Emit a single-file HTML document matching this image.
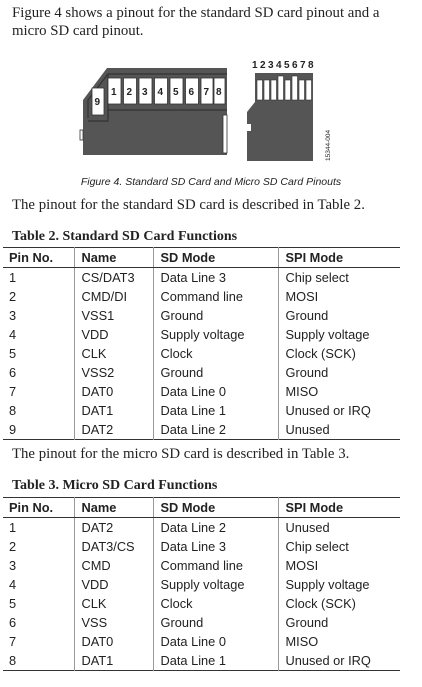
<!DOCTYPE html>
<html><head><meta charset="utf-8"><style>
body{margin:0;width:422px;height:687px;background:#fff;position:relative;overflow:hidden;font-family:"Liberation Serif",serif;color:#222}
.p{position:absolute;left:12px;font-size:14.8px;white-space:nowrap}
.t{position:absolute;left:12px;font-weight:bold;font-size:14px;white-space:nowrap}
table{position:absolute;left:3px;width:397px;border-collapse:collapse;table-layout:fixed;font-family:"Liberation Sans",sans-serif;font-size:12.8px;border-top:1.5px solid #333;border-bottom:1.5px solid #333}
td,th{padding:0 0 0 7px;height:19px;text-align:left;white-space:nowrap;border-left:1px solid #999}
td:first-child,th:first-child{border-left:none;padding-left:6px}
th{height:19px;font-weight:bold;border-bottom:1px solid #333}
</style></head><body>
<div class="p" style="top:5px">Figure 4 shows a pinout for the standard SD card pinout and a</div>
<div class="p" style="top:23px">micro SD card pinout.</div>
<svg style="position:absolute;left:0;top:0" width="422" height="200">
<path d="M83,100 L107,68 L227,68 L227,155 L83,155 Z" fill="#555"/>
<path d="M88,118 L88,100 L108,74 L227,74 M108,74 L108,118 Z" stroke="#333" fill="none" stroke-width="1.2"/>
<path d="M88,121 L108,121 L108,110 L227,110" stroke="#333" fill="none" stroke-width="1.2"/>
<g fill="#fff" stroke="#333" stroke-width="0.8">
<rect x="108" y="78" width="13" height="26"/><rect x="123.5" y="78" width="13" height="26"/><rect x="139" y="78" width="13" height="26"/><rect x="154.5" y="78" width="13" height="26"/><rect x="170" y="78" width="13" height="26"/><rect x="185.5" y="78" width="13" height="26"/><rect x="201" y="78" width="12" height="26"/><rect x="214" y="78" width="11" height="26"/>
<rect x="92" y="88" width="12" height="27"/>
<rect x="223" y="115" width="4" height="38"/>
<rect x="80" y="130" width="3" height="10"/>
</g>
<g font-family="Liberation Sans,sans-serif" font-weight="bold" font-size="10" fill="#222">
<text x="111" y="95">1</text><text x="126.5" y="95">2</text><text x="142" y="95">3</text><text x="157.5" y="95">4</text><text x="173" y="95">5</text><text x="188.5" y="95">6</text><text x="203.5" y="95">7</text><text x="216" y="95">8</text>
<text x="94.5" y="105">9</text>
</g>
<path d="M255,73 L313,73 L313,161 L247,161 L247,112 L255,102 Z" fill="#555"/>
<rect x="247" y="124" width="4" height="7" fill="#fff"/>
<g fill="#fff" stroke="#333" stroke-width="0.6">
<rect x="257" y="80" width="5.5" height="20"/><rect x="264" y="80" width="5.5" height="20"/><rect x="271" y="80" width="5.5" height="20"/><rect x="278" y="76" width="5.5" height="24"/><rect x="285" y="80" width="5.5" height="20"/><rect x="292" y="76" width="5.5" height="24"/><rect x="299" y="80" width="5.5" height="20"/><rect x="306" y="80" width="5.5" height="20"/>
</g>
<g font-family="Liberation Sans,sans-serif" font-weight="bold" font-size="10" fill="#222">
<text x="252" y="68">1</text><text x="260" y="68">2</text><text x="268" y="68">3</text><text x="276" y="68">4</text><text x="284" y="68">5</text><text x="292" y="68">6</text><text x="300" y="68">7</text><text x="308" y="68">8</text>
</g>
<text transform="translate(330,161) rotate(-90)" font-family="Liberation Sans,sans-serif" font-size="6.5" fill="#222">15344-004</text>
<text x="211" y="185" text-anchor="middle" font-family="Liberation Sans,sans-serif" font-style="italic" font-size="10.5" fill="#222">Figure 4. Standard SD Card and Micro SD Card Pinouts</text>
</svg>
<div class="p" style="top:197px">The pinout for the standard SD card is described in Table 2.</div>
<div class="t" style="top:229px">Table 2. Standard SD Card Functions</div>
<table style="top:247px">
<colgroup><col style="width:71px"><col style="width:79px"><col style="width:125px"><col style="width:122px"></colgroup>
<tr><th>Pin No.</th><th>Name</th><th>SD Mode</th><th>SPI Mode</th></tr>
<tr><td>1</td><td>CS/DAT3</td><td>Data Line 3</td><td>Chip select</td></tr>
<tr><td>2</td><td>CMD/DI</td><td>Command line</td><td>MOSI</td></tr>
<tr><td>3</td><td>VSS1</td><td>Ground</td><td>Ground</td></tr>
<tr><td>4</td><td>VDD</td><td>Supply voltage</td><td>Supply voltage</td></tr>
<tr><td>5</td><td>CLK</td><td>Clock</td><td>Clock (SCK)</td></tr>
<tr><td>6</td><td>VSS2</td><td>Ground</td><td>Ground</td></tr>
<tr><td>7</td><td>DAT0</td><td>Data Line 0</td><td>MISO</td></tr>
<tr><td>8</td><td>DAT1</td><td>Data Line 1</td><td>Unused or IRQ</td></tr>
<tr><td>9</td><td>DAT2</td><td>Data Line 2</td><td>Unused</td></tr>
</table>
<div class="p" style="top:446px">The pinout for the micro SD card is described in Table 3.</div>
<div class="t" style="top:478px">Table 3. Micro SD Card Functions</div>
<table style="top:497px">
<colgroup><col style="width:71px"><col style="width:79px"><col style="width:125px"><col style="width:122px"></colgroup>
<tr><th>Pin No.</th><th>Name</th><th>SD Mode</th><th>SPI Mode</th></tr>
<tr><td>1</td><td>DAT2</td><td>Data Line 2</td><td>Unused</td></tr>
<tr><td>2</td><td>DAT3/CS</td><td>Data Line 3</td><td>Chip select</td></tr>
<tr><td>3</td><td>CMD</td><td>Command line</td><td>MOSI</td></tr>
<tr><td>4</td><td>VDD</td><td>Supply voltage</td><td>Supply voltage</td></tr>
<tr><td>5</td><td>CLK</td><td>Clock</td><td>Clock (SCK)</td></tr>
<tr><td>6</td><td>VSS</td><td>Ground</td><td>Ground</td></tr>
<tr><td>7</td><td>DAT0</td><td>Data Line 0</td><td>MISO</td></tr>
<tr><td>8</td><td>DAT1</td><td>Data Line 1</td><td>Unused or IRQ</td></tr>
</table>
</body></html>
